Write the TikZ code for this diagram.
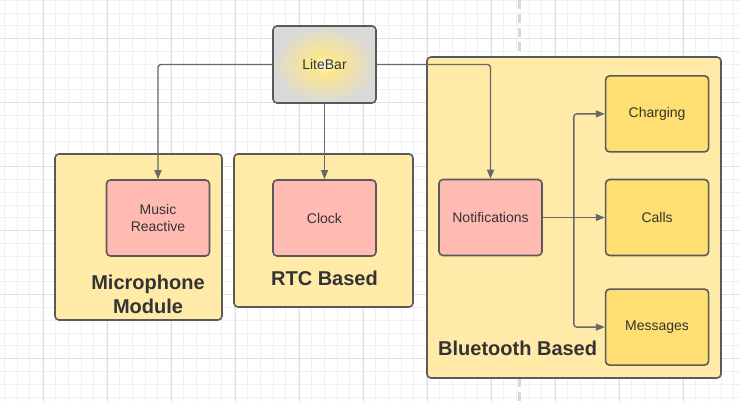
\documentclass[tikz,border=0pt]{standalone}
\usepackage{fontspec}
\setmainfont{Liberation Sans}
\usetikzlibrary{positioning}
\usetikzlibrary{calc}
\usetikzlibrary{arrows.meta}
\definecolor{gridminor}{HTML}{F0F0F0}
\definecolor{gridmajor}{HTML}{E0E0E0}
\definecolor{splitline}{HTML}{D8D8D8}
\definecolor{groupfill}{HTML}{FFEAA7}
\definecolor{featfill}{HTML}{FFBBB1}
\definecolor{btfill}{HTML}{FFDF71}
\definecolor{boxline}{HTML}{5A5A5A}
\definecolor{wireline}{HTML}{686868}
\definecolor{textgray}{HTML}{333333}
\definecolor{barfill}{HTML}{D9D9D9}
\definecolor{glowcore}{HTML}{FFFDF0}
\definecolor{glowmid}{HTML}{FDE78C}
\pgfdeclareradialshading{litebarglow}{\pgfpoint{0bp}{0bp}}{color(0bp)=(glowcore); color(6bp)=(glowmid); color(25bp)=(barfill); color(50bp)=(barfill)}

\begin{document}
\begin{tikzpicture}[x=1pt, y=-1pt,
        every node/.style={text=textgray, font=\fontsize{14}{17}\selectfont},
        group/.style={draw=boxline, line width=1.6pt, rounded corners=4pt, fill=groupfill, inner sep=0pt},
        feature/.style={draw=boxline, line width=1.6pt, rounded corners=4pt, fill=featfill,
                        minimum width=103pt, minimum height=76pt, align=center},
        btfeature/.style={feature, fill=btfill},
        grouplabel/.style={font=\bfseries\fontsize{20}{24}\selectfont, align=center, inner sep=0pt},
        wire/.style={draw=wireline, line width=1.4pt, rounded corners=3pt, -{Triangle[length=9pt,width=7pt]}}]
    \fill[white] (0,0) rectangle (740,401);
    \useasboundingbox (0,0) rectangle (740,401);
    \foreach \i in {0,...,57} {
        \draw[gridminor, line width=1pt] ({4.3+12.8*\i},0) -- ({4.3+12.8*\i},401);
    }
    \foreach \i in {0,...,31} {
        \draw[gridminor, line width=1pt] (0,{0.3+12.8*\i}) -- (740,{0.3+12.8*\i});
    }
    \foreach \i in {0,...,11} {
        \draw[gridmajor, line width=1pt] ({43.3+64*\i},0) -- ({43.3+64*\i},401);
    }
    \foreach \i in {0,...,5} {
        \draw[gridmajor, line width=1pt] (0,{38.3+64*\i}) -- (740,{38.3+64*\i});
    }
    \draw[splitline, line width=3pt, dash pattern=on 9pt off 5pt] (519,0) -- (519,401);

    \node[group, minimum width=167pt, minimum height=166pt] (mic) at (138.5,237) {};
    \node[group, minimum width=179pt, minimum height=153pt] (rtc) at (323.5,230.5) {};
    \node[group, minimum width=294pt, minimum height=321pt] (bt) at (574,217.5) {};

    \node[draw=boxline, line width=1.6pt, rounded corners=4pt, shading=litebarglow,
          minimum width=103pt, minimum height=77pt] (litebar) at (324.5,64.5) {LiteBar};

    \node[feature] (music) at (158,218) {Music\\Reactive};
    \node[feature] (clock) at (324.5,218) {Clock};
    \node[feature] (notif) at (490.5,217.5) {Notifications};
    \node[btfeature, right=62pt of notif] (calls) {Calls};
    \node[btfeature, above=26pt of calls] (charging) {Charging};
    \node[btfeature, below=32pt of calls] (messages) {Messages};

    \node[grouplabel] (miclabel) at (148,294) {Microphone\\Module};
    \node[grouplabel] (rtclabel) at (324.5,278) {RTC Based};
    \node[grouplabel, anchor=west] (btlabel) at (438,348) {Bluetooth Based};

    \draw[wire] (litebar.west) -| (music.north);
    \draw[wire] (litebar.south) -- (clock.north);
    \draw[wire] (litebar.east) -| (notif.north);
    \coordinate (split) at ($(notif.east)!0.5!(calls.west)$);
    \draw[wire] (notif.east) -- (calls.west);
    \draw[wire] (split) |- (charging.west);
    \draw[wire] (split) |- (messages.west);
\end{tikzpicture}
\end{document}
